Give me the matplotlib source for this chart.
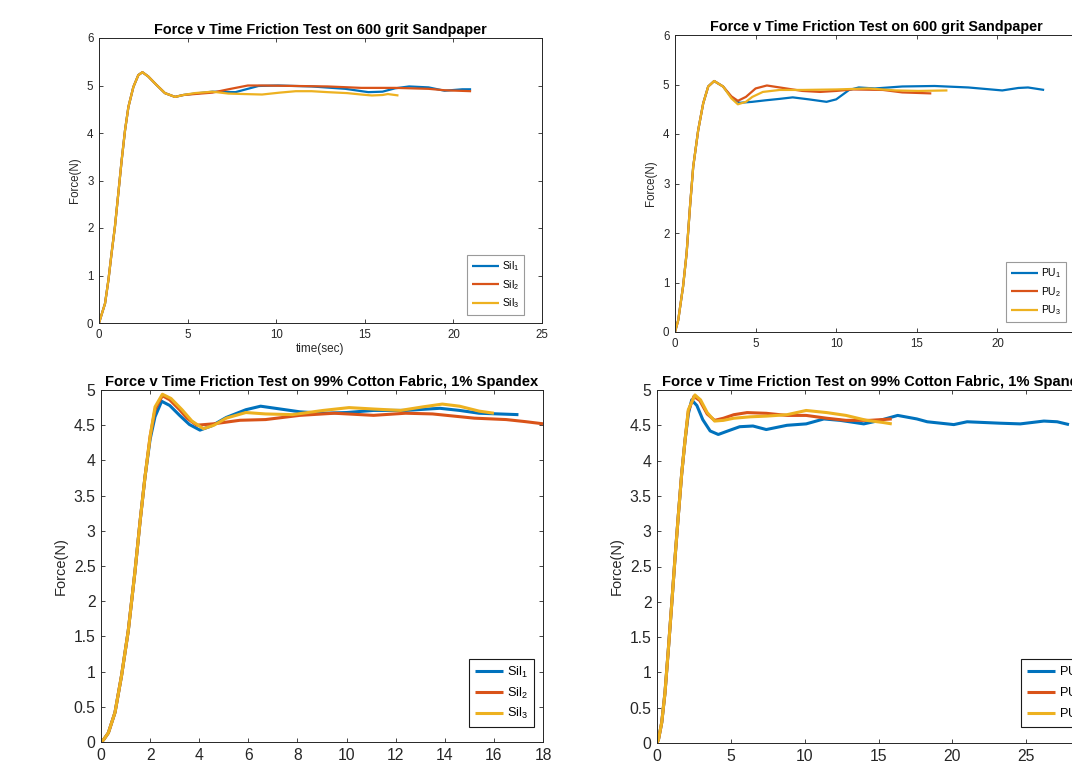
import matplotlib
matplotlib.use("Agg")
import matplotlib.pyplot as plt

plt.rcParams["font.family"] = ["Liberation Sans", "DejaVu Sans"]
plt.rcParams["mathtext.default"] = "regular"

# --------------------------------------------------------------------------- #
# Data (time in s, force in N)
# --------------------------------------------------------------------------- #

# 600 grit sandpaper, silicone
sand_sil1_t = [0, 0.34, 0.53, 0.71, 0.9, 1.09, 1.28, 1.47, 1.66, 1.94, 2.22, 2.45, 2.78, 3.25, 3.72,
               4.29, 4.76, 5.4, 6.4, 7.7, 8.4, 9.0, 10.1, 12.0, 13.9, 15.2, 16.0, 16.7, 17.5, 18.6,
               19.5, 20.5, 21.0]
sand_sil1_f = [0, 0.41, 0.9, 1.47, 2.03, 2.73, 3.43, 4.06, 4.55, 4.97, 5.22, 5.28, 5.19, 5.01, 4.84,
               4.76, 4.8, 4.83, 4.87, 4.86, 4.93, 4.99, 5.0, 4.98, 4.93, 4.86, 4.87, 4.94, 4.98, 4.96,
               4.89, 4.92, 4.92]
sand_sil2_t = [0, 0.34, 0.53, 0.71, 0.9, 1.09, 1.28, 1.47, 1.66, 1.94, 2.22, 2.45, 2.78, 3.25, 3.72,
               4.29, 4.76, 5.4, 6.4, 7.3, 8.4, 9.2, 11.1, 12.9, 14.8, 16.7, 18.6, 19.5, 21.0]
sand_sil2_f = [0, 0.41, 0.9, 1.47, 2.03, 2.73, 3.43, 4.06, 4.55, 4.97, 5.22, 5.28, 5.19, 5.01, 4.84,
               4.76, 4.8, 4.82, 4.85, 4.92, 5.0, 5.0, 4.99, 4.98, 4.95, 4.95, 4.93, 4.9, 4.88]
sand_sil3_t = [0, 0.34, 0.53, 0.71, 0.9, 1.09, 1.28, 1.47, 1.66, 1.94, 2.22, 2.45, 2.78, 3.25, 3.72,
               4.29, 4.76, 5.4, 6.4, 7.3, 8.2, 9.2, 10.2, 11.1, 12.0, 12.9, 14.0, 14.8, 15.4, 16.0,
               16.3, 16.9]
sand_sil3_f = [0, 0.41, 0.9, 1.47, 2.03, 2.73, 3.43, 4.06, 4.55, 4.97, 5.22, 5.28, 5.19, 5.01, 4.84,
               4.76, 4.8, 4.84, 4.87, 4.83, 4.82, 4.81, 4.85, 4.88, 4.88, 4.86, 4.84, 4.81, 4.79, 4.8,
               4.82, 4.79]

# 600 grit sandpaper, polyurethane
sand_pu1_t = [0, 0.2, 0.5, 0.72, 0.93, 1.13, 1.44, 1.75, 2.06, 2.43, 2.98, 3.5, 4.0, 4.4, 4.8, 5.6,
              6.5, 7.3, 8.3, 9.4, 10.0, 10.8, 11.4, 12.4, 14.1, 16.1, 18.2, 20.3, 21.3, 21.9, 22.9]
sand_pu1_f = [0, 0.24, 0.92, 1.59, 2.53, 3.34, 4.08, 4.62, 4.96, 5.07, 4.96, 4.74, 4.63, 4.64, 4.65,
              4.68, 4.71, 4.74, 4.7, 4.65, 4.7, 4.89, 4.94, 4.92, 4.96, 4.97, 4.94, 4.88, 4.93, 4.94,
              4.89]
sand_pu2_t = [0, 0.2, 0.5, 0.72, 0.93, 1.13, 1.44, 1.75, 2.06, 2.43, 2.98, 3.5, 3.9, 4.4, 5.0, 5.7,
              6.5, 7.9, 9.0, 10.0, 11.0, 12.9, 14.1, 15.9]
sand_pu2_f = [0, 0.24, 0.92, 1.59, 2.53, 3.34, 4.08, 4.62, 4.96, 5.07, 4.96, 4.76, 4.67, 4.75, 4.92,
              4.98, 4.94, 4.87, 4.85, 4.87, 4.9, 4.89, 4.84, 4.82]
sand_pu3_t = [0, 0.2, 0.5, 0.72, 0.93, 1.13, 1.44, 1.75, 2.06, 2.43, 2.98, 3.5, 3.9, 4.4, 4.8, 5.45,
              6.5, 7.9, 10.0, 12.0, 13.7, 15.1, 16.9]
sand_pu3_f = [0, 0.24, 0.92, 1.59, 2.53, 3.34, 4.08, 4.62, 4.96, 5.07, 4.96, 4.72, 4.6, 4.65, 4.75,
              4.85, 4.89, 4.89, 4.9, 4.92, 4.88, 4.87, 4.88]

# cotton/spandex fabric, silicone
fab_sil1_t = [0, 0.1, 0.3, 0.57, 0.84, 1.11, 1.38, 1.59, 1.79, 2.0, 2.2, 2.47, 2.8, 3.2, 3.6, 4.03,
              4.5, 5.1, 5.9, 6.5, 7.3, 8.1, 9.05, 10.0, 11.1, 12.4, 13.8, 14.6, 15.4, 16.2, 17.0]
fab_sil1_f = [0, 0.03, 0.13, 0.42, 0.95, 1.58, 2.41, 3.13, 3.76, 4.3, 4.62, 4.84, 4.78, 4.64, 4.51,
              4.43, 4.49, 4.61, 4.72, 4.77, 4.73, 4.69, 4.67, 4.68, 4.71, 4.71, 4.74, 4.71, 4.67,
              4.66, 4.65]
fab_sil2_t = [0, 0.1, 0.3, 0.57, 0.84, 1.11, 1.38, 1.59, 1.79, 2.0, 2.2, 2.5, 2.8, 3.2, 3.5, 3.9,
              4.6, 5.66, 6.7, 8.1, 9.5, 11.1, 12.4, 13.5, 15.2, 16.5, 17.3, 18.0]
fab_sil2_f = [0, 0.03, 0.13, 0.42, 0.95, 1.58, 2.41, 3.13, 3.76, 4.34, 4.72, 4.92, 4.86, 4.72, 4.6,
              4.5, 4.52, 4.57, 4.58, 4.64, 4.67, 4.64, 4.67, 4.66, 4.6, 4.58, 4.55, 4.52]
fab_sil3_t = [0, 0.1, 0.3, 0.57, 0.84, 1.11, 1.38, 1.59, 1.79, 2.0, 2.2, 2.5, 2.85, 3.3, 3.7, 4.17,
              4.6, 5.1, 5.9, 6.7, 7.8, 9.05, 10.1, 11.1, 12.2, 13.1, 13.9, 14.6, 15.4, 16.0]
fab_sil3_f = [0, 0.03, 0.13, 0.42, 0.95, 1.58, 2.41, 3.13, 3.76, 4.34, 4.76, 4.94, 4.88, 4.72, 4.56,
              4.45, 4.5, 4.6, 4.68, 4.66, 4.65, 4.71, 4.75, 4.73, 4.71, 4.76, 4.8, 4.77, 4.7, 4.67]

# cotton/spandex fabric, polyurethane
fab_pu1_t = [0, 0.1, 0.32, 0.54, 0.77, 0.99, 1.22, 1.45, 1.67, 1.9, 2.12, 2.35, 2.7, 3.1, 3.6, 4.15,
             4.8, 5.6, 6.5, 7.4, 8.8, 10.1, 11.3, 12.4, 14.0, 15.1, 16.3, 17.6, 18.3, 20.1, 21.0,
             23.2, 24.6, 26.2, 27.1, 27.9]
fab_pu1_f = [0, 0.05, 0.29, 0.71, 1.33, 1.95, 2.62, 3.24, 3.81, 4.29, 4.66, 4.86, 4.78, 4.58, 4.42,
             4.37, 4.42, 4.48, 4.49, 4.44, 4.5, 4.52, 4.59, 4.57, 4.52, 4.57, 4.64, 4.59, 4.55, 4.51,
             4.55, 4.53, 4.52, 4.56, 4.55, 4.51]
fab_pu2_t = [0, 0.1, 0.32, 0.54, 0.77, 0.99, 1.22, 1.45, 1.67, 1.9, 2.12, 2.5, 2.9, 3.4, 3.9, 4.5,
             5.2, 6.1, 7.4, 8.8, 10.1, 11.5, 12.8, 14.4, 15.9]
fab_pu2_f = [0, 0.05, 0.29, 0.71, 1.33, 1.95, 2.62, 3.24, 3.81, 4.29, 4.7, 4.91, 4.85, 4.66, 4.57,
             4.6, 4.65, 4.68, 4.67, 4.64, 4.64, 4.6, 4.57, 4.57, 4.59]
fab_pu3_t = [0, 0.1, 0.32, 0.54, 0.77, 0.99, 1.22, 1.45, 1.67, 1.9, 2.12, 2.57, 2.95, 3.4, 3.9, 4.5,
             5.2, 6.3, 7.4, 8.8, 10.1, 11.5, 12.8, 14.2, 15.3, 15.9]
fab_pu3_f = [0, 0.05, 0.29, 0.71, 1.33, 1.95, 2.62, 3.24, 3.81, 4.29, 4.72, 4.93, 4.86, 4.68, 4.56,
             4.57, 4.6, 4.62, 4.63, 4.65, 4.71, 4.68, 4.64, 4.57, 4.54, 4.52]

sil_labels = ["Sil$_1$", "Sil$_2$", "Sil$_3$"]
pu_labels = ["PU$_1$", "PU$_2$", "PU$_3$"]

sand_title = "Force v Time Friction Test on 600 grit Sandpaper"
fab_title = "Force v Time Friction Test on 99% Cotton Fabric, 1% Spandex"

sand_yticks = [0, 1, 2, 3, 4, 5, 6]
fab_yticks = [0, 0.5, 1, 1.5, 2, 2.5, 3, 3.5, 4, 4.5, 5]
fab_ytick_labels = ["0", "0.5", "1", "1.5", "2", "2.5", "3", "3.5", "4", "4.5", "5"]

COLORS = ["#0072BD", "#D95319", "#EDB120"]
INK = "#262626"

W, H = 1072, 765
fig = plt.figure(figsize=(W / 100, H / 100), dpi=100)


def add_axes_px(x0, y0, x1, y1):
    """Axes from a pixel box (top-left origin)."""
    return fig.add_axes([x0 / W, 1 - y1 / H, (x1 - x0) / W, (y1 - y0) / H])


def style(ax, fs, title, title_fs, xlim, xticks, ylim, yticks, yticklabels=None, ylab_fs=None):
    ax.set_xlim(*xlim)
    ax.set_ylim(*ylim)
    ax.set_xticks(xticks)
    ax.set_yticks(yticks)
    if yticklabels is not None:
        ax.set_yticklabels(yticklabels)
    ax.tick_params(direction="in", top=True, right=True, length=3, width=0.6,
                   colors=INK, labelsize=fs, pad=4)
    for sp in ax.spines.values():
        sp.set_color(INK)
        sp.set_linewidth(0.7)
    ax.set_title(title, fontsize=title_fs, fontweight="bold", pad=3, color="black")
    ax.set_ylabel("Force(N)", fontsize=ylab_fs or fs, color=INK)


def draw(ax, series, labels, lw, fs, anchor, edge, handlelength):
    for (t, f), c, lab in zip(series, COLORS, labels):
        ax.plot(t, f, color=c, lw=lw, label=lab, solid_capstyle="butt")
    leg = ax.legend(loc="upper left", bbox_to_anchor=anchor, borderaxespad=0,
                    fontsize=fs, handlelength=handlelength, handletextpad=0.3,
                    labelspacing=0.45, borderpad=0.45, fancybox=False, framealpha=1)
    leg.get_frame().set_edgecolor(edge)
    leg.get_frame().set_linewidth(0.8)


# top-left
ax = add_axes_px(99, 38, 542, 323)
style(ax, 8.3, sand_title, 10.4, (0, 25), range(0, 26, 5), (0, 6), sand_yticks)
ax.set_xlabel("time(sec)", fontsize=8.5, color=INK, labelpad=2)
draw(ax, [(sand_sil1_t, sand_sil1_f), (sand_sil2_t, sand_sil2_f), (sand_sil3_t, sand_sil3_f)],
     sil_labels, 1.6, 7.5, (0.831, 0.239), "#9a9a9a", 2.6)

# top-right
ax = add_axes_px(675, 35, 1078, 332)
style(ax, 8.3, sand_title, 10.4, (0, 25), range(0, 26, 5), (0, 6), sand_yticks)
draw(ax, [(sand_pu1_t, sand_pu1_f), (sand_pu2_t, sand_pu2_f), (sand_pu3_t, sand_pu3_f)],
     pu_labels, 1.6, 7.5, (0.822, 0.236), "#9a9a9a", 2.6)

# bottom-left
ax = add_axes_px(101, 390, 543, 742)
style(ax, 11.3, fab_title, 10.6, (0, 18), range(0, 19, 2), (0, 5), fab_yticks, fab_ytick_labels,
      ylab_fs=10.5)
draw(ax, [(fab_sil1_t, fab_sil1_f), (fab_sil2_t, fab_sil2_f), (fab_sil3_t, fab_sil3_f)],
     sil_labels, 2.2, 9.2, (0.833, 0.236), "#1a1a1a", 2.2)

# bottom-right (runs past the right edge of the picture)
ax = add_axes_px(657, 390, 1100, 743)
style(ax, 11.3, fab_title, 10.6, (0, 30), range(0, 31, 5), (0, 5), fab_yticks, fab_ytick_labels,
      ylab_fs=10.5)
draw(ax, [(fab_pu1_t, fab_pu1_f), (fab_pu2_t, fab_pu2_f), (fab_pu3_t, fab_pu3_f)],
     pu_labels, 2.2, 9.2, (0.822, 0.238), "#1a1a1a", 2.2)

fig.savefig("out.png", dpi=100)
plt.close(fig)
